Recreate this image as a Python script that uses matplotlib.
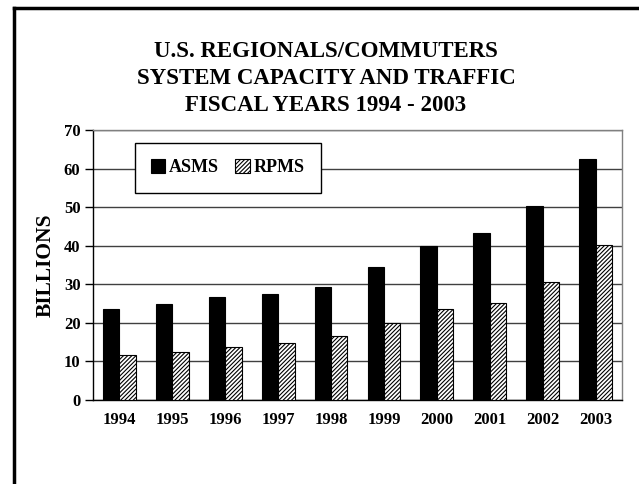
import matplotlib
matplotlib.use("Agg")
import matplotlib.pyplot as plt
from matplotlib.lines import Line2D
import numpy as np

years = ["1994", "1995", "1996", "1997", "1998", "1999", "2000", "2001", "2002", "2003"]
asms = [23.5, 25.0, 26.8, 27.4, 29.2, 34.6, 39.9, 43.3, 50.4, 62.6]
rpms = [11.7, 12.5, 13.8, 14.9, 16.6, 20.0, 23.7, 25.2, 30.7, 40.3]
yticks = [0, 10, 20, 30, 40, 50, 60, 70]

plt.rcParams["font.family"] = ["Liberation Serif", "DejaVu Serif"]
plt.rcParams["font.weight"] = "bold"
plt.rcParams["hatch.linewidth"] = 0.8
plt.rcParams["hatch.color"] = "#505050"

fig = plt.figure(figsize=(6.39, 4.84), dpi=100)
ax = fig.add_axes([0.1455, 0.1736, 0.8279, 0.5578])

x = np.arange(len(years))
w = 0.31
ax.bar(x - w / 2, asms, w, color="black", edgecolor="black", linewidth=0.8, label="ASMS", zorder=3)
ax.bar(x + w / 2, rpms, w, color="white", edgecolor="black", linewidth=0.8,
       hatch="////////", label="RPMS", zorder=3)

ax.set_xlim(-0.5, len(years) - 0.5)
ax.set_ylim(0, 70)
ax.set_yticks(yticks)
ax.set_xticks(x)
ax.set_xticklabels(years, fontsize=12, fontweight="bold")
ax.set_yticklabels([str(v) for v in yticks], fontsize=12, fontweight="bold")
ax.tick_params(axis="x", length=0, pad=9)
ax.tick_params(axis="y", length=6, width=1, direction="out", pad=3)
ax.yaxis.grid(True, color="#404040", linewidth=1)
ax.set_axisbelow(True)
for s in ["left", "bottom"]:
    ax.spines[s].set_color("black")
    ax.spines[s].set_linewidth(1)
for s in ["right", "top"]:
    ax.spines[s].set_color("#808080")
    ax.spines[s].set_linewidth(1)

ax.set_ylabel("BILLIONS", fontsize=15.5, fontweight="bold", labelpad=6)

leg = ax.legend(loc="upper left", bbox_to_anchor=(0.079, 0.952), ncol=2,
                prop={"size": 13, "weight": "bold"}, frameon=True, fancybox=False,
                framealpha=1, edgecolor="black", handlelength=0.8, handleheight=0.8,
                handletextpad=0.2, columnspacing=0.9, borderpad=0.9, borderaxespad=0)
leg.get_frame().set_linewidth(1)

fig.text(0.51, 0.838, "U.S. REGIONALS/COMMUTERS\nSYSTEM CAPACITY AND TRAFFIC\nFISCAL YEARS 1994 - 2003",
         ha="center", va="center", fontsize=16.5, fontweight="bold", linespacing=1.38)

# outer frame (left and top edges only)
fig.add_artist(Line2D([14 / 639, 14 / 639], [0, 1 - 8 / 484], color="black", linewidth=2.5,
                      transform=fig.transFigure))
fig.add_artist(Line2D([14 / 639, 1], [1 - 8 / 484, 1 - 8 / 484], color="black", linewidth=2.5,
                      transform=fig.transFigure))

fig.savefig("out.png", dpi=100)
